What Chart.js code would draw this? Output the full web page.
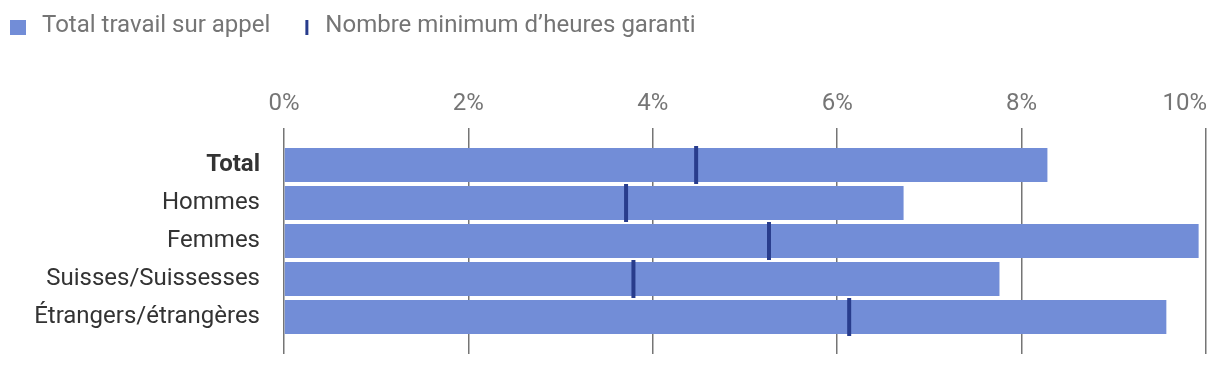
<!DOCTYPE html>
<html>
<head>
<meta charset="utf-8">
<script src="https://cdn.jsdelivr.net/npm/chart.js@4"></script>
<style>
  html, body { margin: 0; padding: 0; background: #ffffff; }
  #wrap { width: 1220px; height: 366px; }
</style>
</head>
<body>
<div id="wrap"><canvas id="c" width="1220" height="366"></canvas></div>
<script>
// ---- data ----
const categories = ['Total', 'Hommes', 'Femmes', 'Suisses/Suissesses', 'Étrangers/étrangères'];
const totalOnCall = [8.28, 6.72, 9.92, 7.76, 9.57];
const minGuaranteed = [4.47, 3.71, 5.26, 3.79, 6.13];
const seriesNames = ['Total travail sur appel', 'Nombre minimum d\u2019heures garanti'];
const xTickValues = [0, 2, 4, 6, 8, 10];

// ---- styles ----
const BAR_COLOR = '#728dd7';
const MARK_COLOR = '#283c8c';
const GRID_COLOR = '#757575';
const LEGEND_TEXT = '#757575';
const FONT = 'Roboto';

// legend symbols
function makeSymbol(draw) {
  const c = document.createElement('canvas');
  c.width = 20; c.height = 25;
  const g = c.getContext('2d');
  draw(g);
  return c;
}
const symBar = makeSymbol(g => { g.fillStyle = BAR_COLOR; g.fillRect(0, 7, 16, 15); });
const symMark = makeSymbol(g => { g.fillStyle = MARK_COLOR; g.fillRect(12, 7, 3, 15); });

function noPad(axis) {
  axis.paddingLeft = 0; axis.paddingRight = 0; axis.paddingTop = 0; axis.paddingBottom = 0;
}

const layoutTweaks = {
  id: 'layoutTweaks',
  beforeLayout(chart) {
    const lg = chart.legend;
    if (lg && !lg._patched) {
      const orig = lg.fit;
      lg.fit = function () { orig.call(this); this.height = 50; };
      lg._patched = true;
    }
  },
  afterLayout(chart) {
    const lg = chart.legend;
    if (lg) { lg.left = -13; lg.top = -9.5; }
    const s = chart.scales.x;
    const items = s.getLabelItems();
    const last = items[items.length - 1];
    if (last) {
      last.options.textAlign = 'right';
      last.options.translation[0] = s.right + 1;
    }
  }
};

new Chart(document.getElementById('c'), {
  data: {
    labels: categories,
    datasets: [
      {
        type: 'bar',
        label: seriesNames[0],
        data: totalOnCall,
        backgroundColor: BAR_COLOR,
        borderWidth: 0,
        categoryPercentage: 1,
        barPercentage: 34 / 38,
        order: 2
      },
      {
        type: 'line',
        label: seriesNames[1],
        data: minGuaranteed,
        showLine: false,
        pointStyle: 'line',
        pointRotation: 90,
        pointRadius: 19,
        pointHoverRadius: 19,
        pointBorderWidth: 4,
        pointHoverBorderWidth: 4,
        pointBorderColor: MARK_COLOR,
        pointBackgroundColor: MARK_COLOR,
        borderColor: MARK_COLOR,
        order: 1
      }
    ]
  },
  options: {
    indexAxis: 'y',
    responsive: false,
    animation: false,
    events: [],
    layout: { autoPadding: false, padding: { left: 0, right: 14, top: 0, bottom: 12 } },
    plugins: {
      tooltip: { enabled: false },
      legend: {
        position: 'top',
        align: 'start',
        labels: {
          usePointStyle: true,
          pointStyleWidth: 20,
          padding: 23,
          color: LEGEND_TEXT,
          font: { family: FONT, size: 24 },
          generateLabels: () => [
            { text: seriesNames[0], pointStyle: symBar, fillStyle: BAR_COLOR, strokeStyle: BAR_COLOR, fontColor: LEGEND_TEXT, lineWidth: 0, hidden: false, datasetIndex: 0 },
            { text: seriesNames[1], pointStyle: symMark, fillStyle: MARK_COLOR, strokeStyle: MARK_COLOR, fontColor: LEGEND_TEXT, lineWidth: 0, hidden: false, datasetIndex: 1 }
          ]
        }
      }
    },
    scales: {
      x: {
        type: 'linear',
        position: 'top',
        min: 0,
        max: 10,
        afterBuildTicks: (axis) => { axis.ticks = xTickValues.map(v => ({ value: v })); },
        afterFit: (axis) => { axis.height = 96; noPad(axis); },
        border: { display: false },
        grid: { color: GRID_COLOR, lineWidth: 1.5, drawTicks: true, tickLength: 18, tickColor: GRID_COLOR },
        ticks: {
          padding: 10,
          color: '#757575',
          font: { family: FONT, size: 24 },
          callback: (v) => v + '%'
        }
      },
      x2: {
        type: 'linear',
        position: 'bottom',
        min: 0,
        max: 10,
        afterBuildTicks: (axis) => { axis.ticks = xTickValues.map(v => ({ value: v })); },
        afterFit: (axis) => { axis.height = 18; noPad(axis); },
        border: { display: false },
        grid: { color: GRID_COLOR, lineWidth: 1.5, drawOnChartArea: false, drawTicks: true, tickLength: 18, tickColor: GRID_COLOR },
        ticks: { display: false }
      },
      y: {
        type: 'category',
        position: 'left',
        afterFit: (axis) => { axis.width = 284; noPad(axis); },
        border: { display: false },
        grid: { display: false, drawTicks: false },
        ticks: {
          padding: 24,
          color: '#333333',
          font: (ctx) => ({ family: FONT, size: 24, weight: ctx.index === 0 ? 'bold' : 'normal' })
        }
      }
    }
  },
  plugins: [layoutTweaks]
});
</script>
</body>
</html>
